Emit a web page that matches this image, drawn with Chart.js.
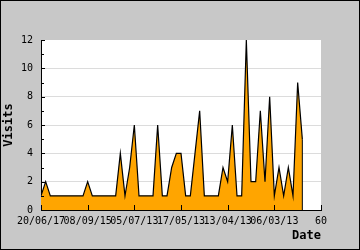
<!DOCTYPE html>
<html lang="en">
<head>
    <meta charset="UTF-8">
    <title>Visits</title>
    <script src="https://cdn.jsdelivr.net/npm/chart.js"></script>
    <style>
        body {
            margin: 0;
            padding: 0;
        }
        .frame {
            width: 360px;
            height: 250px;
            box-sizing: border-box;
            border: 1px solid #000;
            background-color: #c8c8c8;
        }
        canvas {
            display: block;
        }
    </style>
</head>
<body>
    <div class="frame">
        <canvas id="visitsChart" width="358" height="248"></canvas>
    </div>

    <script>
        // Visits per point
        const visits = [1, 2, 1, 1, 1, 1, 1, 1, 1, 1,
                        2, 1, 1, 1, 1, 1, 1, 4, 1, 3,
                        6, 1, 1, 1, 1, 6, 1, 1, 3, 4,
                        4, 1, 1, 4, 7, 1, 1, 1, 1, 3,
                        2, 6, 1, 1, 12, 2, 2, 7, 2, 8,
                        1, 3, 1, 3, 1, 9, 5];
        // Date labels, one every 10 points
        const tickLabels = ['20/06/17', '08/09/15', '05/07/13', '17/05/13', '13/04/13', '06/03/13', '60'];

        const points = visits.map((v, i) => ({x: i, y: v}));

        // White plot area, inner tick marks and the closing edge of the area
        const plotDecor = {
            id: 'plotDecor',
            beforeDraw(chart) {
                const {ctx, chartArea: a} = chart;
                ctx.save();
                ctx.fillStyle = '#fff';
                ctx.fillRect(a.left, a.top, a.right - a.left, a.bottom - a.top);
                ctx.restore();
            },
            afterDraw(chart) {
                const {ctx, chartArea: a, scales} = chart;
                ctx.save();
                ctx.strokeStyle = '#000';
                ctx.lineWidth = 1;
                ctx.beginPath();
                for (let v = 0; v <= 12; v++) {
                    const py = Math.round(scales.y.getPixelForValue(v)) + 0.5;
                    ctx.moveTo(a.left, py);
                    ctx.lineTo(a.left + (v % 2 === 0 ? 4 : 3), py);
                }
                for (let i = 0; i < tickLabels.length; i++) {
                    const px = Math.round(scales.x.getPixelForValue(i * 10)) + 0.5;
                    ctx.moveTo(px, a.bottom);
                    ctx.lineTo(px, a.bottom - 5);
                }
                // vertical edge where the filled area ends
                const last = visits.length - 1;
                const ex = scales.x.getPixelForValue(last);
                ctx.moveTo(ex, scales.y.getPixelForValue(visits[last]));
                ctx.lineTo(ex, scales.y.getPixelForValue(0));
                ctx.stroke();
                ctx.restore();
            }
        };

        const ctx = document.getElementById('visitsChart').getContext('2d');
        const visitsChart = new Chart(ctx, {
            type: 'line',
            data: {
                datasets: [{
                    label: 'Visits',
                    data: points,
                    borderColor: '#000',
                    borderWidth: 1.2,
                    backgroundColor: '#ffa500',
                    fill: 'origin',
                    pointRadius: 0,
                    tension: 0
                }]
            },
            options: {
                responsive: false,
                animation: false,
                devicePixelRatio: 1,
                layout: {
                    padding: {top: 39, right: 38, left: 0, bottom: 0}
                },
                plugins: {
                    legend: {display: false},
                    tooltip: {enabled: false}
                },
                scales: {
                    x: {
                        type: 'linear',
                        min: 0,
                        max: 60,
                        afterFit: (scale) => { scale.height = 39; },
                        grid: {display: true, color: 'rgba(0,0,0,0)', drawTicks: false},
                        border: {display: true, color: '#000', width: 1},
                        ticks: {
                            stepSize: 10,
                            autoSkip: false,
                            maxRotation: 0,
                            padding: 5,
                            color: '#000',
                            font: {family: 'DejaVu Sans Mono', size: 10},
                            callback: (value) => tickLabels[value / 10]
                        },
                        title: {
                            display: true,
                            text: 'Date',
                            align: 'end',
                            color: '#000',
                            padding: {top: 0, bottom: 6},
                            font: {family: 'DejaVu Sans Mono', size: 12, weight: 'bold'}
                        }
                    },
                    y: {
                        min: 0,
                        max: 12,
                        afterFit: (scale) => { scale.width = 40; },
                        grid: {
                            drawTicks: false,
                            color: (c) => (c.tick && c.tick.value > 0 && c.tick.value < 12) ? '#dcdcdc' : 'rgba(0,0,0,0)'
                        },
                        border: {display: true, color: '#000', width: 1},
                        ticks: {
                            stepSize: 2,
                            padding: 8,
                            color: '#000',
                            font: {family: 'DejaVu Sans Mono', size: 10}
                        },
                        title: {
                            display: true,
                            text: 'Visits',
                            color: '#000',
                            padding: {top: 1, bottom: 0},
                            font: {family: 'DejaVu Sans Mono', size: 12, weight: 'bold'}
                        }
                    }
                }
            },
            plugins: [plotDecor]
        });
    </script>
</body>
</html>
